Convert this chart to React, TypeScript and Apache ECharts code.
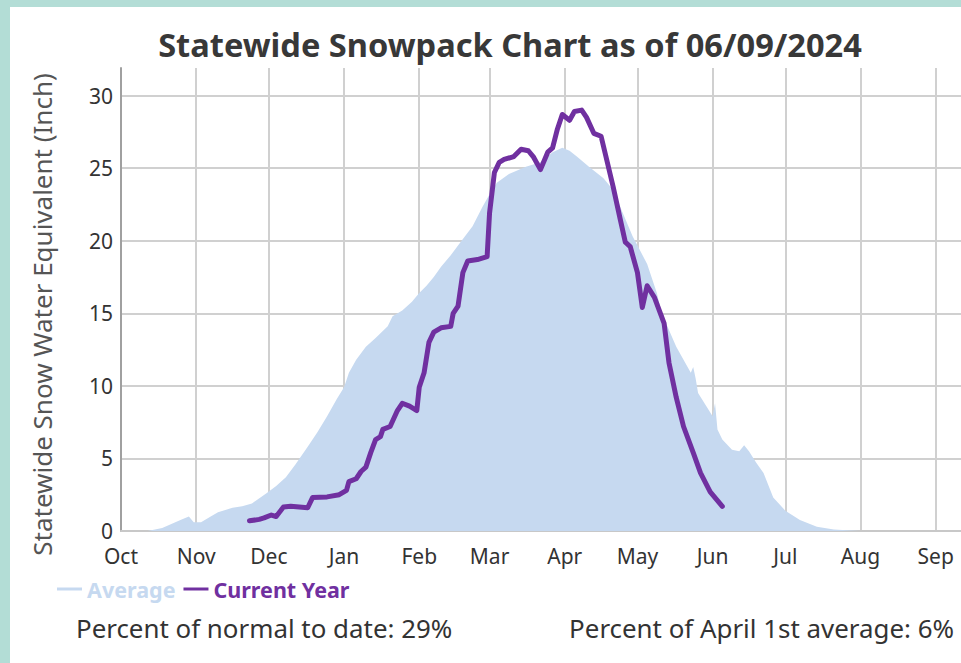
import React, { useEffect, useRef } from "react";
import * as echarts from "echarts";

const TITLE = "Statewide Snowpack Chart as of 06/09/2024";
const Y_NAME = "Statewide Snow Water Equivalent (Inch)";
const MONTH_LABELS = ["Jan", "Feb", "Mar", "Apr", "May", "Jun", "Jul", "Aug", "Sep", "Oct", "Nov", "Dec"];
const FOOTER_LEFT = "Percent of normal to date: 29%";
const FOOTER_RIGHT = "Percent of April 1st average: 6%";

const avgDates = [
  "2023-10-01", "2023-10-12", "2023-10-18", "2023-10-22", "2023-10-26", "2023-10-29", "2023-10-31",
  "2023-11-03", "2023-11-07", "2023-11-10", "2023-11-16", "2023-11-20", "2023-11-24", "2023-11-30",
  "2023-12-04", "2023-12-08", "2023-12-12", "2023-12-17", "2023-12-21", "2023-12-25", "2023-12-29",
  "2024-01-01", "2024-01-03", "2024-01-06", "2024-01-10", "2024-01-14", "2024-01-19", "2024-01-21",
  "2024-01-25", "2024-01-29", "2024-02-01", "2024-02-04", "2024-02-07", "2024-02-10", "2024-02-14",
  "2024-02-18", "2024-02-23", "2024-02-27", "2024-03-01", "2024-03-04", "2024-03-09", "2024-03-16",
  "2024-03-22", "2024-03-27", "2024-03-31", "2024-04-03", "2024-04-06", "2024-04-11", "2024-04-17",
  "2024-04-21", "2024-04-25", "2024-04-29", "2024-05-05", "2024-05-09", "2024-05-11", "2024-05-17",
  "2024-05-23", "2024-05-24", "2024-05-25", "2024-05-26", "2024-06-01", "2024-06-02", "2024-06-03",
  "2024-06-05", "2024-06-09", "2024-06-12", "2024-06-14", "2024-06-16", "2024-06-19", "2024-06-22",
  "2024-06-26", "2024-07-01", "2024-07-07", "2024-07-14", "2024-07-21", "2024-07-28", "2024-08-01",
  "2024-09-30",
];
const avgSwe = [
  0, 0, 0.2, 0.5, 0.8, 1.0, 0.6,
  0.6, 1.0, 1.3, 1.6, 1.7, 1.9, 2.6,
  3.1, 3.7, 4.6, 5.8, 6.8, 7.9, 9.1,
  9.9, 10.9, 11.8, 12.7, 13.3, 14.1, 14.8,
  15.2, 15.8, 16.4, 16.9, 17.5, 18.2, 19.0,
  19.9, 21.0, 22.3, 23.2, 24.0, 24.6, 25.1,
  25.4, 26.1, 26.4, 26.2, 25.8, 25.1, 24.3,
  23.5, 21.9, 20.3, 18.4, 16.4, 15.0, 12.7,
  10.9, 11.3, 10.5, 9.5, 7.9, 8.8, 7.0,
  6.3, 5.6, 5.5, 5.9, 5.5, 4.7, 4.0,
  2.3, 1.4, 0.75, 0.3, 0.1, 0.03, 0,
  0,
];

const curDates = [
  "2023-11-23", "2023-11-27", "2023-11-29", "2023-12-02", "2023-12-04", "2023-12-07", "2023-12-10",
  "2023-12-17", "2023-12-19", "2023-12-25", "2023-12-30", "2024-01-02", "2024-01-03", "2024-01-06",
  "2024-01-08", "2024-01-10", "2024-01-12", "2024-01-14", "2024-01-16", "2024-01-17", "2024-01-20",
  "2024-01-23", "2024-01-25", "2024-01-28", "2024-01-31", "2024-02-01", "2024-02-03", "2024-02-05",
  "2024-02-07", "2024-02-10", "2024-02-14", "2024-02-15", "2024-02-17", "2024-02-19", "2024-02-21",
  "2024-02-25", "2024-02-29", "2024-03-01", "2024-03-03", "2024-03-05", "2024-03-07", "2024-03-11",
  "2024-03-14", "2024-03-17", "2024-03-19", "2024-03-22", "2024-03-25", "2024-03-27", "2024-03-29",
  "2024-03-31", "2024-04-03", "2024-04-05", "2024-04-08", "2024-04-10", "2024-04-13", "2024-04-16",
  "2024-04-18", "2024-04-21", "2024-04-24", "2024-04-26", "2024-04-28", "2024-05-01", "2024-05-03",
  "2024-05-05", "2024-05-08", "2024-05-12", "2024-05-14", "2024-05-17", "2024-05-20", "2024-05-24",
  "2024-05-27", "2024-05-31", "2024-06-05",
];
const curSwe = [
  0.7, 0.8, 0.9, 1.1, 1.0, 1.65, 1.7,
  1.6, 2.3, 2.35, 2.5, 2.8, 3.4, 3.6,
  4.1, 4.4, 5.4, 6.3, 6.5, 7.0, 7.2,
  8.3, 8.8, 8.6, 8.3, 9.9, 10.9, 13.0,
  13.7, 14.0, 14.1, 15.0, 15.5, 17.8, 18.6,
  18.7, 18.9, 21.9, 24.7, 25.4, 25.6, 25.8,
  26.3, 26.2, 25.8, 24.9, 26.1, 26.4, 27.7,
  28.7, 28.3, 28.9, 29.0, 28.5, 27.4, 27.2,
  25.8, 23.7, 21.4, 19.9, 19.6, 17.8, 15.4,
  16.9, 16.1, 14.3, 11.6, 9.2, 7.2, 5.4,
  4.0, 2.7, 1.7,
];

const AVG_COLOR = "#c6d9f0";
const CUR_COLOR = "#7030a0";
const BORDER_COLOR = "#b3ddd6";
const FONT = "'Noto Sans', 'Open Sans', sans-serif";

export default function App() {
  const ref = useRef<HTMLDivElement>(null);

  useEffect(() => {
    if (!ref.current) return;
    const chart = echarts.init(ref.current, null, { renderer: "svg" });
    const avgData = avgDates.map((d, i) => [d, avgSwe[i]]);
    const curData = curDates.map((d, i) => [d, curSwe[i]]);

    chart.setOption({
      animation: false,
      backgroundColor: "#ffffff",
      title: {
        text: TITLE,
        left: "center",
        top: 23,
        textStyle: { fontFamily: FONT, fontSize: 32.6, fontWeight: "bold", color: "#383838" },
      },
      legend: {
        left: 52,
        top: 573,
        itemWidth: 25,
        itemHeight: 3,
        itemGap: 8,
        textStyle: { fontFamily: FONT, fontSize: 21.5, fontWeight: "bold" },
        data: [
          { name: "Average", icon: "rect", textStyle: { color: AVG_COLOR }, itemStyle: { color: AVG_COLOR } },
          { name: "Current Year", icon: "rect", textStyle: { color: CUR_COLOR }, itemStyle: { color: CUR_COLOR } },
        ],
      },
      grid: { left: 121, top: 68, width: 885, height: 463, containLabel: false },
      xAxis: {
        type: "time",
        min: "2023-10-01",
        max: "2024-09-30",
        splitNumber: 12,
        axisLine: { show: true, lineStyle: { color: "#c8c8c8", width: 2 } },
        axisTick: { show: false },
        axisLabel: {
          margin: 14,
          fontFamily: FONT,
          fontSize: 21,
          color: "#333333",
          formatter: (v: number) => {
            const d = new Date(v);
            return d.getDate() === 1 ? MONTH_LABELS[d.getMonth()] : "";
          },
        },
        splitLine: { show: true, showMinLine: false, lineStyle: { color: "#d0d0d0", width: 2 } },
      },
      yAxis: {
        type: "value",
        min: 0,
        max: 31.9,
        interval: 5,
        name: Y_NAME,
        nameLocation: "middle",
        nameRotate: 90,
        nameGap: 66,
        nameTextStyle: { fontFamily: FONT, fontSize: 26, color: "#555555", padding: [0, 30, 0, 0] },
        axisLine: { show: true, lineStyle: { color: "#a0a0a0", width: 2 } },
        axisTick: { show: false },
        axisLabel: { margin: 8, fontFamily: FONT, fontSize: 21, color: "#333333", showMaxLabel: false },
        splitLine: { show: true, showMinLine: false, showMaxLine: false, lineStyle: { color: "#d0d0d0", width: 2 } },
      },
      series: [
        {
          name: "Average",
          type: "line",
          data: avgData,
          symbol: "none",
          z: 2,
          lineStyle: { width: 0, color: AVG_COLOR },
          itemStyle: { color: AVG_COLOR },
          areaStyle: { color: AVG_COLOR, opacity: 1 },
        },
        {
          name: "Current Year",
          type: "line",
          data: curData,
          symbol: "none",
          z: 3,
          lineStyle: { width: 5, color: CUR_COLOR, join: "round", cap: "round" },
          itemStyle: { color: CUR_COLOR },
        },
      ],
      graphic: [
        { type: "rect", shape: { x: 0, y: 0, width: 1020, height: 7 }, style: { fill: BORDER_COLOR }, z: 10 },
        { type: "rect", shape: { x: 0, y: 0, width: 10, height: 663 }, style: { fill: BORDER_COLOR }, z: 10 },
        {
          type: "text",
          x: 76,
          y: 628,
          style: { text: FOOTER_LEFT, fontFamily: FONT, fontSize: 25.9, fill: "#333333", align: "left", verticalAlign: "middle" },
        },
        {
          type: "text",
          x: 954,
          y: 628,
          style: { text: FOOTER_RIGHT, fontFamily: FONT, fontSize: 25.9, fill: "#333333", align: "right", verticalAlign: "middle" },
        },
      ],
    });
    return () => chart.dispose();
  }, []);

  return (
    <div style={{ position: "fixed", left: 0, top: 0, width: 961, height: 663, overflow: "hidden", background: "#fff" }}>
      <div ref={ref} style={{ width: 1020, height: 663 }} />
    </div>
  );
}
